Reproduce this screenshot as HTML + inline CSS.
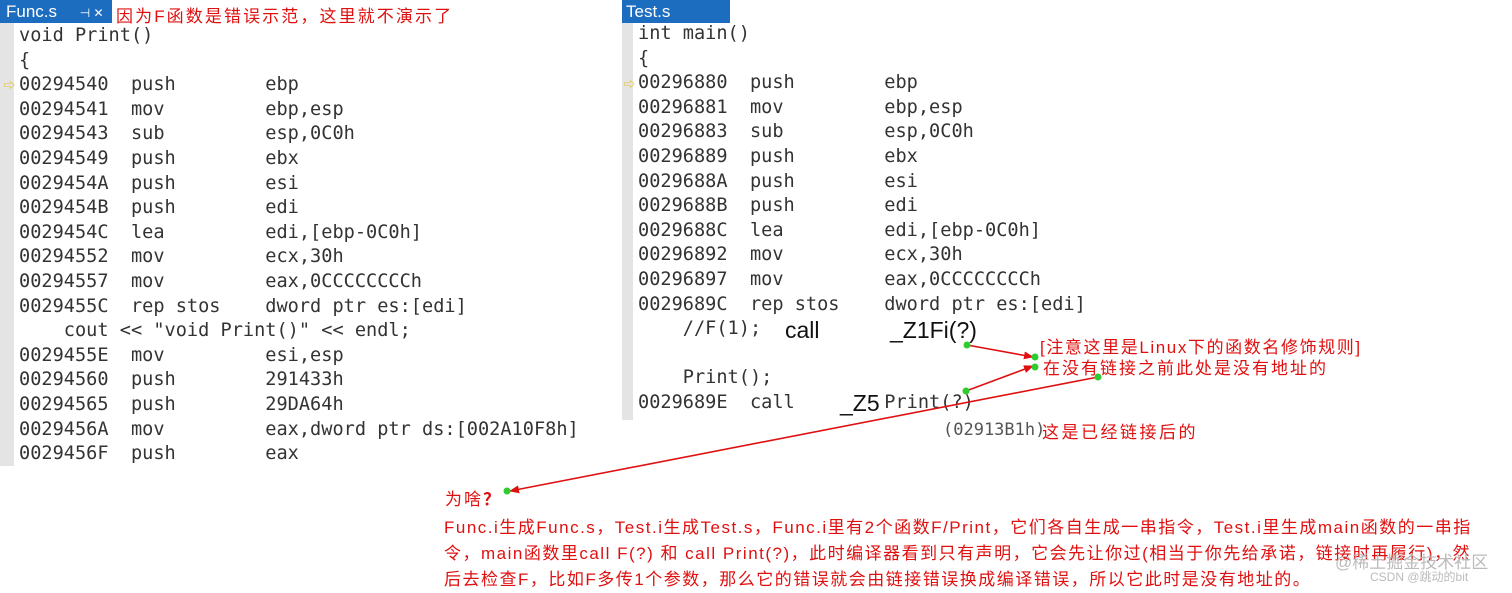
<!DOCTYPE html>
<html><head><meta charset="utf-8"><style>
body{margin:0;width:1512px;height:590px;background:#fff;position:relative;overflow:hidden;font-family:"Liberation Sans","Noto Sans CJK SC",sans-serif}
.t{position:absolute;white-space:pre;font-family:"DejaVu Sans Mono","Liberation Mono",monospace;font-size:18.6px;color:#333;line-height:24.6px}
.r{position:absolute;white-space:nowrap;color:#e01010;font-family:"Liberation Sans","Noto Sans CJK SC",sans-serif}
.tab{position:absolute;background:#1c6cc0;color:#fff;font-size:17px;height:23px;line-height:23px}
.strip{position:absolute;background:#e4e4e4}
.c{position:absolute;white-space:pre;font-family:"Liberation Sans",sans-serif;color:#111;font-size:23px}
</style></head><body>
<div class="tab" style="left:0;top:0;width:112px;padding-left:6px;box-sizing:border-box">Func.s <span style="font-size:12px;margin-left:18px">⊣ ✕</span></div>
<div class="r" style="left:116px;top:2px;font-size:17px;letter-spacing:2.1px">因为F函数是错误示范，这里就不演示了</div>
<div class="strip" style="left:0;top:23px;width:14px;height:443px"></div>
<div style="position:absolute;left:4px;top:77px;color:#e0b000;font-size:11px">⇨</div>
<div class="t" style="left:19px;top:24px">void Print()
{
00294540  push        ebp
00294541  mov         ebp,esp
00294543  sub         esp,0C0h
00294549  push        ebx
0029454A  push        esi
0029454B  push        edi
0029454C  lea         edi,[ebp-0C0h]
00294552  mov         ecx,30h
00294557  mov         eax,0CCCCCCCCh
0029455C  rep stos    dword ptr es:[edi]
    cout &lt;&lt; "void Print()" &lt;&lt; endl;
0029455E  mov         esi,esp
00294560  push        291433h
00294565  push        29DA64h
0029456A  mov         eax,dword ptr ds:[002A10F8h]
0029456F  push        eax</div>

<div class="tab" style="left:622px;top:0;width:108px;padding-left:4px;box-sizing:border-box">Test.s</div>
<div class="strip" style="left:622px;top:23px;width:11px;height:397px"></div>
<div style="position:absolute;left:624px;top:76px;color:#e0b000;font-size:11px">⇨</div>
<div class="t" style="left:638px;top:22px;line-height:24.6px">int main()
{
00296880  push        ebp
00296881  mov         ebp,esp
00296883  sub         esp,0C0h
00296889  push        ebx
0029688A  push        esi
0029688B  push        edi
0029688C  lea         edi,[ebp-0C0h]
00296892  mov         ecx,30h
00296897  mov         eax,0CCCCCCCCh
0029689C  rep stos    dword ptr es:[edi]
    //F(1);

    Print();
0029689E  call        Print(?)</div>
<div class="c" style="left:785px;top:317px">call</div>
<div class="c" style="left:890px;top:317px">_Z1Fi(?)</div>
<div class="c" style="left:840px;top:390px;background:transparent">_Z5</div>
<div class="t" style="left:943px;top:418px;color:#555;font-size:17px">(02913B1h)</div>
<div class="r" style="left:1042px;top:418px;font-size:17px;letter-spacing:2.5px">这是已经链接后的</div>
<div class="r" style="left:1040px;top:333px;font-size:17px;letter-spacing:1.6px">[注意这里是Linux下的函数名修饰规则]</div>
<div class="r" style="left:1043px;top:354px;font-size:17px;letter-spacing:2px">在没有链接之前此处是没有地址的</div>
<div class="r" style="left:445px;top:485px;font-size:17px;letter-spacing:2px">为啥<b>？</b></div>
<div class="r" style="left:444px;top:515px;font-size:17px;letter-spacing:1.5px;line-height:26px">Func.i生成Func.s，Test.i生成Test.s，Func.i里有2个函数F/Print，它们各自生成一串指令，Test.i里生成main函数的一串指<br>令，main函数里call F(?) 和 call Print(?)，此时编译器看到只有声明，它会先让你过(相当于你先给承诺，链接时再履行)，然<br>后去检查F，比如F多传1个参数，那么它的错误就会由链接错误换成编译错误，所以它此时是没有地址的。</div>
<div style="position:absolute;left:1335px;top:548px;color:#bbb;font-size:17px">@稀土掘金技术社区</div>
<div style="position:absolute;left:1370px;top:568px;color:#bbb;font-size:12px">CSDN @跳动的bit</div>
<svg style="position:absolute;left:0;top:0" width="1512" height="590">
<defs><marker id="a" markerWidth="10" markerHeight="8" refX="9" refY="4" orient="auto" markerUnits="userSpaceOnUse"><path d="M0,0L10,4L0,8z" fill="#e01010"/></marker></defs>
<g stroke="#e01010" stroke-width="1.6" fill="none">
<line x1="967" y1="345" x2="1033" y2="357" marker-end="url(#a)"/>
<line x1="966" y1="391" x2="1033" y2="366" marker-end="url(#a)"/>
<line x1="1098" y1="377" x2="510" y2="491" marker-end="url(#a)"/>
</g>
<g fill="#2ecc2e"><circle cx="967" cy="345" r="3.5"/><circle cx="1035" cy="357" r="3.5"/><circle cx="1035" cy="367" r="3.5"/><circle cx="966" cy="391" r="3.5"/><circle cx="1098" cy="377" r="3.5"/><circle cx="507" cy="491" r="3.5"/></g>
</svg>
</body></html>
